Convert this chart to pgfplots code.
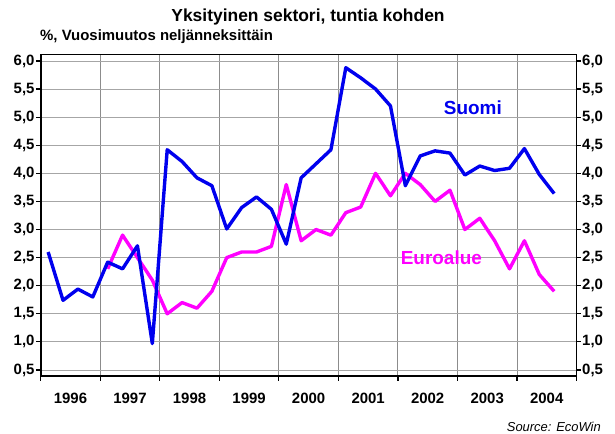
\documentclass[border=0pt]{standalone}
\usepackage{pgfplots}
\pgfplotsset{compat=1.18}
\usepackage{fontspec}
\setmainfont{Liberation Sans}
\definecolor{suomi}{RGB}{0,0,238}
\definecolor{euro}{RGB}{255,0,255}

\pgfplotstableread{
x y
1996.125 2.60
1996.375 1.74
1996.625 1.94
1996.875 1.80
1997.125 2.42
1997.375 2.30
1997.625 2.71
1997.875 0.97
1998.125 4.42
1998.375 4.21
1998.625 3.92
1998.875 3.78
1999.125 3.01
1999.375 3.39
1999.625 3.58
1999.875 3.36
2000.125 2.74
2000.375 3.92
2000.625 4.17
2000.875 4.42
2001.125 5.88
2001.375 5.70
2001.625 5.50
2001.875 5.20
2002.125 3.78
2002.375 4.31
2002.625 4.40
2002.875 4.36
2003.125 3.97
2003.375 4.13
2003.625 4.05
2003.875 4.09
2004.125 4.44
2004.375 3.98
2004.625 3.64
}\suomidata

\pgfplotstableread{
x y
1997.125 2.3
1997.375 2.9
1997.625 2.5
1997.875 2.1
1998.125 1.5
1998.375 1.7
1998.625 1.6
1998.875 1.9
1999.125 2.5
1999.375 2.6
1999.625 2.6
1999.875 2.7
2000.125 3.8
2000.375 2.8
2000.625 3.0
2000.875 2.9
2001.125 3.3
2001.375 3.4
2001.625 4.0
2001.875 3.6
2002.125 4.0
2002.375 3.8
2002.625 3.5
2002.875 3.7
2003.125 3.0
2003.375 3.2
2003.625 2.8
2003.875 2.3
2004.125 2.8
2004.375 2.2
2004.625 1.9
}\eurodata

\begin{document}
\begin{tikzpicture}
\useasboundingbox (0bp,-434bp) rectangle (615bp,0bp);
\clip (0bp,-434bp) rectangle (615bp,0bp);
\node[font=\bfseries\fontsize{17.5}{20}\selectfont, anchor=base, inner sep=0] at (308bp,-21bp) {Yksityinen sektori, tuntia kohden};
\node[font=\bfseries\fontsize{15}{17}\selectfont, anchor=base west, inner sep=0] at (40bp,-40bp) {\%, Vuosimuutos neljänneksittäin};
\node[font=\itshape\fontsize{13}{15}\selectfont, anchor=base east, inner sep=0] at (601bp,-431bp) {Source: EcoWin};

\pgfplotsset{
  mystyle/.style={
    at={(40.7bp,-376bp)}, anchor=south west,
    scale only axis, width=535.8bp, height=321.5bp,
    xmin=1996, xmax=2005, ymin=0.393, ymax=6.115,
    ytick={0.5,1,1.5,2,2.5,3,3.5,4,4.5,5,5.5,6},
    tick align=outside,
    major tick length=4.5bp,
    tick style={black, line width=1.2bp},
    axis line style={black, line width=1.6bp},
    ticklabel style={font=\bfseries\fontsize{15}{17}\selectfont},
    /pgf/number format/.cd, fixed, fixed zerofill, precision=1, use comma, assume math mode=true,
  }
}

\begin{axis}[mystyle,
  xtick={1996,1997,1998,1999,2000,2001,2002,2003,2004,2005},
  xticklabels={1996,1997,1998,1999,2000,2001,2002,2003,2004},
  x tick label as interval,
  xtick pos=bottom, ytick pos=left,
  xmajorgrids, ymajorgrids,
  x grid style={gray!90, line width=0.9bp},
  y grid style={gray!70, line width=0.9bp},
  xticklabel style={yshift=-9bp},
  yticklabel style={inner sep=1.5bp},
  x axis line style={line width=1.6bp},
]
\addplot[euro, line width=3.4bp, line join=round] table[x=x,y=y] {\eurodata};
\addplot[suomi, line width=3.4bp, line join=round] table[x=x,y=y] {\suomidata};
\node[font=\bfseries\fontsize{19}{21}\selectfont, text=suomi, anchor=base, inner sep=0] at (axis cs:2003.26,5.04) {Suomi};
\node[font=\bfseries\fontsize{19}{21}\selectfont, text=euro, anchor=base, inner sep=0] at (axis cs:2002.73,2.37) {Euroalue};
\end{axis}

\begin{axis}[mystyle,
  axis x line=none, axis y line*=right,
  yticklabel style={inner sep=1bp},
]
\addplot[draw=none] coordinates {(2000,3)};
\end{axis}
\end{tikzpicture}
\end{document}
